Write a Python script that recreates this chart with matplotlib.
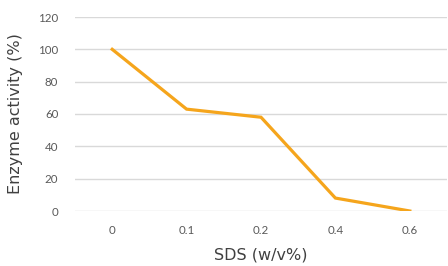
import matplotlib
matplotlib.use("Agg")
import matplotlib.pyplot as plt

# --- data ---
sds_labels = ["0", "0.1", "0.2", "0.4", "0.6"]
activity = [100, 63, 58, 8, 0]
y_ticks = [0, 20, 40, 60, 80, 100, 120]

LINE_COLOR = "#F5A51C"
GRID_COLOR = "#D9D9D9"
TICK_COLOR = "#595959"
LABEL_COLOR = "#404040"

plt.rcParams["font.family"] = ["Lato", "DejaVu Sans"]

fig = plt.figure(figsize=(4.48, 2.66), dpi=100)
ax = fig.add_axes([75 / 448, 1 - 211 / 266, 372 / 448, 194 / 266])

x = list(range(len(sds_labels)))
ax.plot(x, activity, color=LINE_COLOR, linewidth=2.3, solid_joinstyle="miter", zorder=3)

ax.set_xlim(-0.5, len(sds_labels) - 0.5)
ax.set_ylim(0, 120)
ax.set_yticks(y_ticks)
ax.set_xticks(x)
ax.set_xticklabels(sds_labels)

ax.yaxis.grid(True, color=GRID_COLOR, linewidth=1.0)
ax.set_axisbelow(True)
for s in ax.spines.values():
    s.set_visible(False)
ax.tick_params(axis="both", length=0, labelsize=8.3, labelcolor=TICK_COLOR)
ax.tick_params(axis="y", pad=12)
ax.tick_params(axis="x", pad=10)

label_font = {"family": "DejaVu Sans", "size": 11.5, "color": LABEL_COLOR}
ax.set_xlabel("SDS (w/v%)", fontdict=label_font, labelpad=8)
ax.set_ylabel("Enzyme activity (%)", fontdict=label_font, labelpad=11)

fig.savefig("out.png", dpi=100)
